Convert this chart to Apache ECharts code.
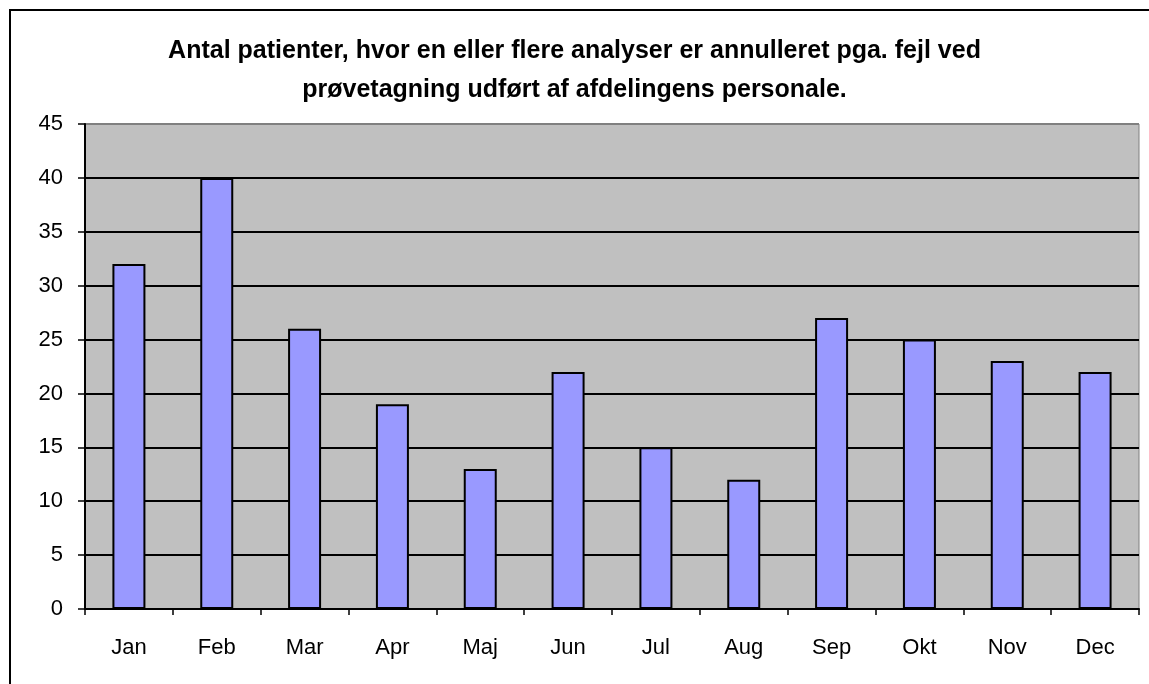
<!DOCTYPE html>
<html>
<head>
<meta charset="utf-8">
<script src="https://cdn.jsdelivr.net/npm/echarts@6/dist/echarts.min.js"></script>
<style>
  html, body { margin: 0; padding: 0; background: #fff; }
  #chart { width: 1149px; height: 684px; }
</style>
</head>
<body>
<div id="chart"></div>
<script>
// data
const months = ['Jan', 'Feb', 'Mar', 'Apr', 'Maj', 'Jun', 'Jul', 'Aug', 'Sep', 'Okt', 'Nov', 'Dec']
const patients = [32, 40, 26, 19, 13, 22, 15, 12, 27, 25, 23, 22]
const titleLines = [
  'Antal patienter, hvor en eller flere analyser er annulleret pga. fejl ved',
  'prøvetagning udført af afdelingens personale.'
]

const chart = echarts.init(document.getElementById('chart'))

// gridlines black, top edge (45) gray like the plot frame
const splitColors = ['#000', '#000', '#000', '#000', '#000', '#000', '#000', '#000', '#000', '#808080']

chart.setOption({
  backgroundColor: '#fff',
  animation: false,
  title: {
    text: titleLines.join('\n'),
    left: 'center',
    top: 27,
    textStyle: {
      fontFamily: '"Liberation Sans", Arial, sans-serif',
      fontWeight: 'bold',
      fontSize: 25,
      lineHeight: 39,
      color: '#000'
    }
  },
  graphic: [
    {
      type: 'rect',
      shape: { x: 10, y: 10, width: 1200, height: 720 },
      style: { fill: 'none', stroke: '#000', lineWidth: 2 },
      silent: true
    }
  ],
  grid: {
    left: 85,
    top: 124,
    right: 10,
    bottom: 75,
    show: true,
    backgroundColor: '#C0C0C0',
    borderColor: '#808080',
    borderWidth: 1
  },
  xAxis: {
    type: 'category',
    data: months,
    axisLine: { lineStyle: { color: '#000', width: 2 } },
    axisTick: { show: true, length: 6, lineStyle: { color: '#000', width: 1.5 } },
    axisLabel: {
      color: '#000',
      fontSize: 22,
      fontFamily: '"Liberation Sans", Arial, sans-serif',
      margin: 28
    }
  },
  yAxis: {
    type: 'value',
    min: 0,
    max: 45,
    interval: 5,
    axisLine: { show: true, lineStyle: { color: '#000', width: 2 } },
    axisTick: { show: true, length: 7, lineStyle: { color: '#000', width: 1.5 } },
    axisLabel: {
      color: '#000',
      fontSize: 22,
      fontFamily: '"Liberation Sans", Arial, sans-serif',
      margin: 22
    },
    splitLine: { show: true, lineStyle: { color: splitColors, width: 2 } }
  },
  series: [
    {
      type: 'bar',
      data: patients,
      barWidth: 33,
      itemStyle: {
        color: '#9999FF',
        borderColor: '#000',
        borderWidth: 2
      }
    }
  ]
})
</script>
</body>
</html>
